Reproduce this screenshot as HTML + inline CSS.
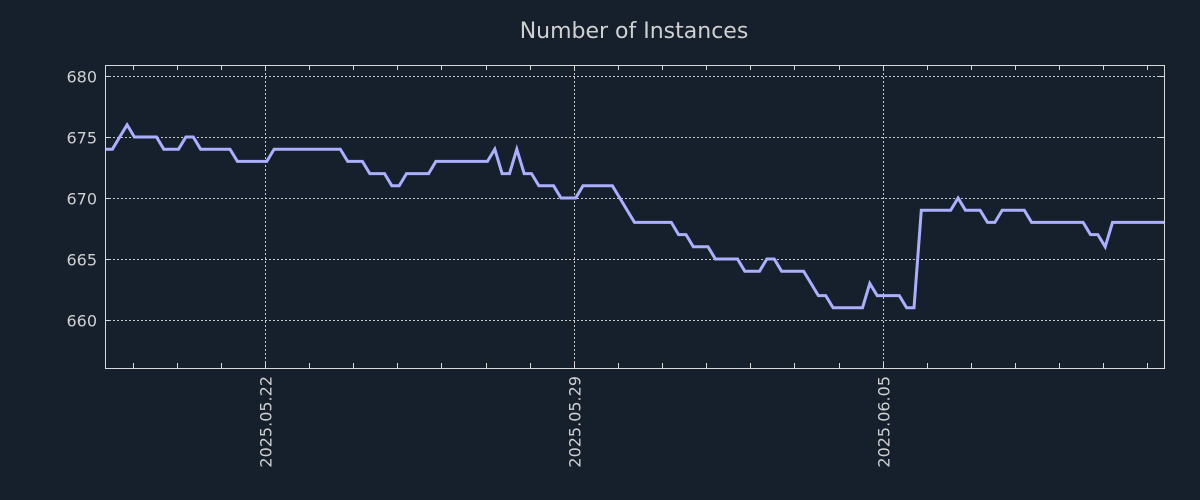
<!DOCTYPE html>
<html><head><meta charset="utf-8"><style>
html,body{margin:0;padding:0;background:#161f2c;}
svg{display:block;font-family:"DejaVu Sans","Liberation Sans",sans-serif;}
</style></head><body>
<svg id="chart" width="1200" height="500" xmlns="http://www.w3.org/2000/svg">
<rect width="1200" height="500" fill="#161f2c"/>
<text x="634" y="38" text-anchor="middle" font-size="22" fill="#d0d0d0">Number of Instances</text>
<g id="grid"></g>
<g id="axes"></g>
<path id="line" fill="none" stroke="#aab0ff" stroke-width="3" stroke-linejoin="miter"/>
<rect x="105.5" y="65.5" width="1059" height="303" fill="none" stroke="#d8d8d8" stroke-width="1"/>
</svg>
<script>
const yTicks = [660, 665, 670, 675, 680];
const xTickLabels = ["2025.05.22", "2025.05.29", "2025.06.05"];
const xTickDays = [0, 7, 14];
const stepHours = 4;
const values = [674,674,675,676,675,675,675,675,674,674,674,675,675,674,674,674,674,674,673,673,673,673,673,674,674,674,674,674,674,674,674,674,674,673,673,673,672,672,672,671,671,672,672,672,672,673,673,673,673,673,673,673,673,674,672,672,674,672,672,671,671,671,670,670,670,671,671,671,671,671,670,669,668,668,668,668,668,668,667,667,666,666,666,665,665,665,665,664,664,664,665,665,664,664,664,664,663,662,662,661,661,661,661,661,663,662,662,662,662,661,661,669,669,669,669,669,670,669,669,669,668,668,669,669,669,669,668,668,668,668,668,668,668,668,667,667,666,668,668,668,668,668,668,668,668];
const L=105,R=1164,T=65,B=368;
const dayMin=-3.625, dayMax=20.375, yMin=656.07, yMax=680.9;
const xs=d=>L+(d-dayMin)/(dayMax-dayMin)*(R-L);
const ys=v=>B-(v-yMin)/(yMax-yMin)*(B-T);
const NS="http://www.w3.org/2000/svg";
const grid=document.getElementById('grid'), axes=document.getElementById('axes');
function mk(tag,attrs,parent){const e=document.createElementNS(NS,tag);for(const k in attrs)e.setAttribute(k,attrs[k]);parent.appendChild(e);return e;}
yTicks.forEach(v=>{
  const y=Math.round(ys(v))+0.5;
  const g=mk('line',{x1:L,x2:R,y1:y,y2:y,stroke:'#c8c8c8','stroke-dasharray':'2,2','stroke-width':1},grid);
  
  
  const t=mk('line',{x1:L,x2:L+5,y1:y,y2:y,stroke:'#d8d8d8'},axes);
  
  
  const t2=mk('line',{x1:R-5,x2:R,y1:y,y2:y,stroke:'#d8d8d8'},axes);
  
  
  const lb=mk('text',{x:L-8,y:y+6,'text-anchor':'end','font-size':16,fill:'#d0d0d0'},axes);
  lb.textContent=v;
  
  
});
for(let d=Math.ceil(dayMin);d<=dayMax;d++){
  const x=Math.round(xs(d))+0.5;
  const t=mk('line',{x1:x,x2:x,y1:B-5,y2:B,stroke:'#d8d8d8'},axes);
  
  
  const t2=mk('line',{x1:x,x2:x,y1:T,y2:T+5,stroke:'#d8d8d8'},axes);
  
  
}
xTickDays.forEach((d,i)=>{
  const x=Math.round(xs(d))+0.5;
  const g=mk('line',{x1:x,x2:x,y1:T,y2:B,stroke:'#c8c8c8','stroke-dasharray':'2,2','stroke-width':1},grid);
  
  
  const lb=mk('text',{x:0,y:0,'text-anchor':'end','font-size':16,fill:'#d0d0d0',transform:`translate(${x+6},${B+8}) rotate(-90)`},axes);
  lb.textContent=xTickLabels[i];
  
  
});
let dstr='';
values.forEach((v,i)=>{const d=dayMin+i*stepHours/24;dstr+=(i?'L':'M')+xs(d).toFixed(1)+','+ys(v).toFixed(1);});
document.getElementById('line').setAttribute('d',dstr);
</script>
</body></html>
